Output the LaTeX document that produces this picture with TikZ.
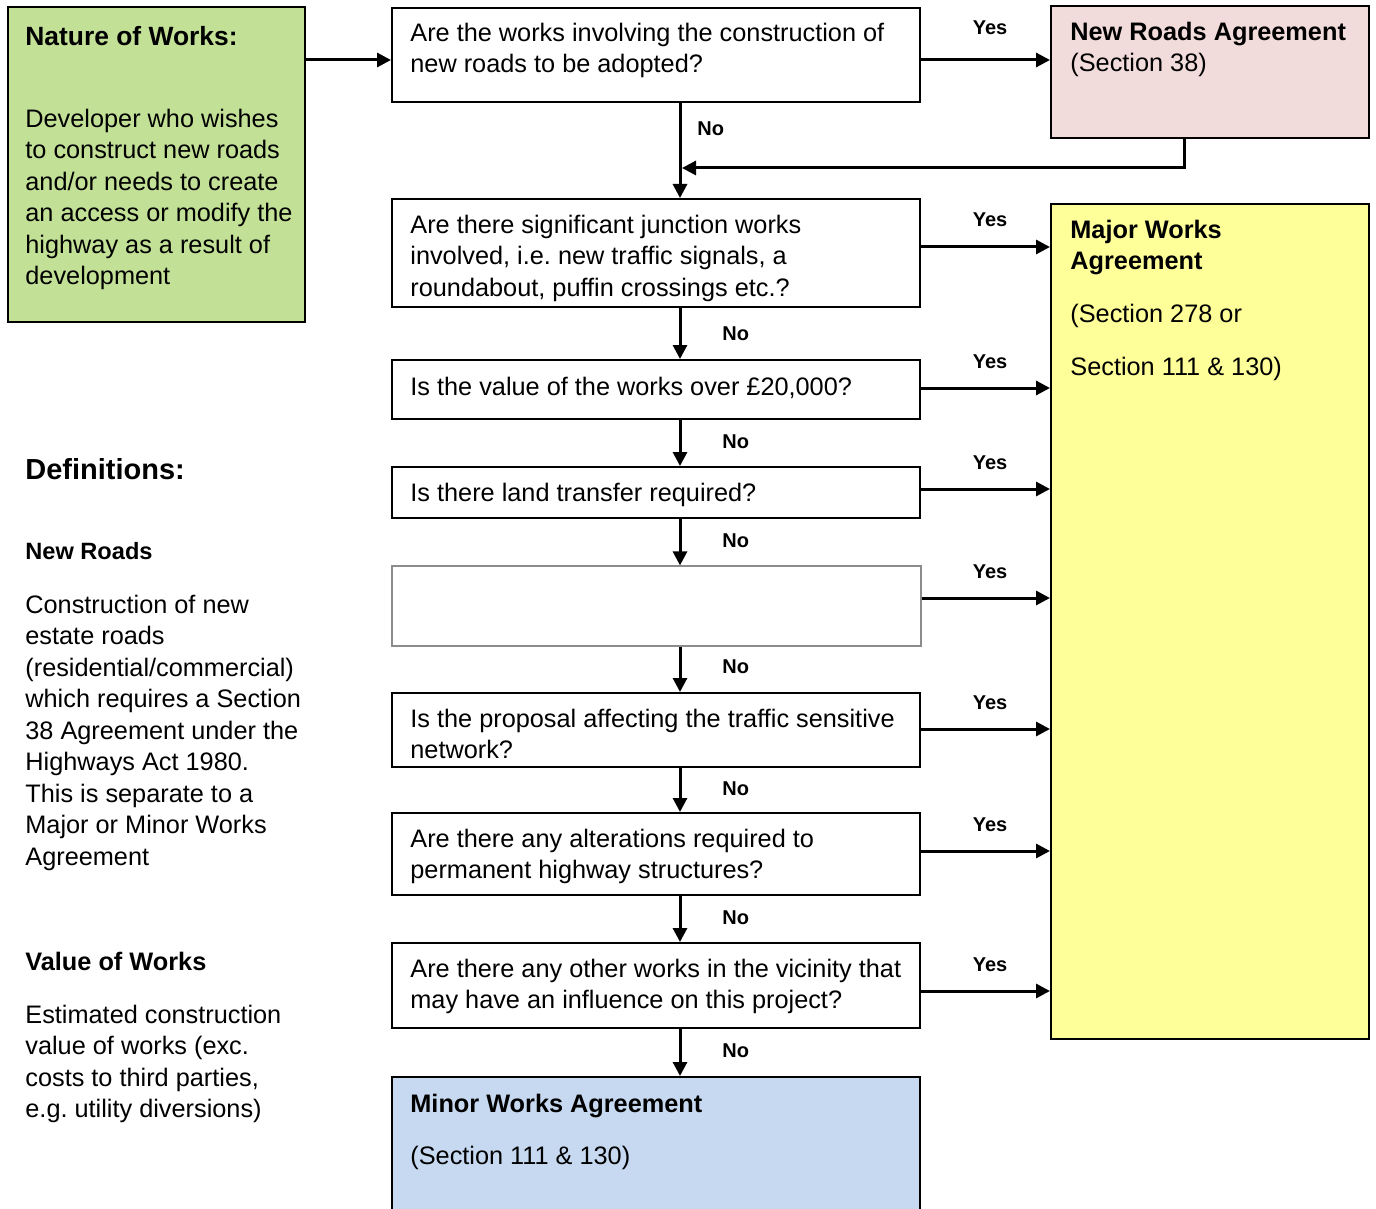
\documentclass[tikz,border=0pt]{standalone}
\usepackage{fontspec}
\setmainfont{Liberation Sans}
\usetikzlibrary{arrows.meta}
\definecolor{natgreen}{RGB}{194,225,150}
\definecolor{nrapink}{RGB}{242,220,219}
\definecolor{mwayellow}{RGB}{255,255,153}
\definecolor{minblue}{RGB}{198,217,240}
\begin{document}
\begin{tikzpicture}[x=0.5pt,y=-0.5pt,
  box/.style={draw=black, line width=1pt, rectangle, inner sep=0pt},
  emptybox/.style={draw=black!45, line width=0.6pt, rectangle, inner sep=0pt},
  arr/.style={line width=1.5pt, -{Triangle[length=7pt,width=7pt]}},
  body/.style={font=\fontsize{12.65}{15.75}\selectfont, align=left, inner sep=0pt, anchor=north west},
  bodyb/.style={body, font=\fontsize{12.65}{15.75}\selectfont\bfseries},
  yesno/.style={font=\fontsize{10}{12}\selectfont\bfseries, inner sep=0pt}]
\useasboundingbox (0,0) rectangle (1376,1209);
\fill[white] (0,0) rectangle (1376,1209);
% boxes
\node[box, fill=natgreen, minimum width=148.5pt, minimum height=157.5pt] (green) at (156.5,164.5) {};
\node[box, minimum width=264pt, minimum height=47pt] (q1) at (656,55) {};
\node[box, fill=nrapink, minimum width=159pt, minimum height=66pt] (nra) at (1210,72) {};
\node[box, minimum width=264pt, minimum height=54pt] (q2) at (656,253) {};
\node[box, fill=mwayellow, minimum width=159pt, minimum height=417.5pt] (mwa) at (1210,621.5) {};
\node[box, minimum width=264pt, minimum height=29.5pt] (q3) at (656,389.5) {};
\node[box, minimum width=264pt, minimum height=25.5pt] (q4) at (656,492.5) {};
\node[emptybox, minimum width=264.5pt, minimum height=40pt] (q5) at (656.5,606) {};
\node[box, minimum width=264pt, minimum height=37pt] (q6) at (656,730) {};
\node[box, minimum width=264pt, minimum height=41pt] (q7) at (656,854) {};
\node[box, minimum width=264pt, minimum height=42.5pt] (q8) at (656,985.5) {};
\node[box, fill=minblue, minimum width=264pt, minimum height=81.5pt] (minor) at (656,1158.5) {};
% texts in boxes
\node[body, font=\fontsize{13.2}{15.75}\selectfont\bfseries] (tgreenh) at (25,45-22) {\strut Nature of Works:};
\node[body] (tgreen) at (25,127-22) {\strut Developer who wishes\\to construct new roads\\and/or needs to create\\an access or modify the\\highway as a result of\\development};
\node[body] (tq1) at (410,41-22) {\strut Are the works involving the construction of\\new roads to be adopted?};
\node[body] (tnra) at (1070,40-22) {\strut\textbf{New Roads Agreement}\\(Section 38)};
\node[body] (tq2) at (410,233-22) {\strut Are there significant junction works\\involved, i.e.\ new traffic signals, a\\roundabout, puffin crossings etc.?};
\node[bodyb] (tmwah) at (1070,238-22) {\strut Major Works\\Agreement};
\node[body] (tmwa1) at (1070,322-22) {\strut (Section 278 or};
\node[body] (tmwa2) at (1070,375-22) {\strut Section 111 \& 130)};
\node[body] (tq3) at (410,395-22) {\strut Is the value of the works over £20,000?};
\node[body] (tq4) at (410,501-22) {\strut Is there land transfer required?};
\node[body] (tq6) at (410,727-22) {\strut Is the proposal affecting the traffic sensitive\\network?};
\node[body] (tq7) at (410,847-22) {\strut Are there any alterations required to\\permanent highway structures?};
\node[body] (tq8) at (410,977-22) {\strut Are there any other works in the vicinity that\\may have an influence on this project?};
\node[bodyb] (tminh) at (410,1112-22) {\strut Minor Works Agreement};
\node[body] (tmin) at (410,1164-22) {\strut (Section 111 \& 130)};
% left definitions
\node[font=\fontsize{14.5}{17}\selectfont\bfseries, inner sep=0pt, anchor=base west] (tdef) at (25,479) {Definitions:};
\node[body, font=\fontsize{11.8}{15.75}\selectfont\bfseries] (tnrh) at (25,559-22) {\strut New Roads};
\node[body] (tnr) at (25,613-22) {\strut Construction of new\\estate roads\\(residential/commercial)\\which requires a Section\\38 Agreement under the\\Highways Act 1980.\\This is separate to a\\Major or Minor Works\\Agreement};
\node[bodyb] (tvwh) at (25,970-22) {\strut Value of Works};
\node[body] (tvw) at (25,1023-22) {\strut Estimated construction\\value of works (exc.\\costs to third parties,\\e.g.\ utility diversions)};
% connectors
\draw[arr] (green.east |- 0,60) -- (q1.west |- 0,60);
\draw[arr] (q1.east |- 0,60) -- (nra.west |- 0,60);
\node[yesno, anchor=base] (yes1) at (990,35) {Yes};
\draw[arr] (q1.south -| 680,0) -- (q2.north -| 680,0);
\node[yesno, anchor=base west] (no1) at (697,136) {No};
\coordinate (join) at (682,168);
\draw[arr] (nra.south -| 1184,0) |- (join);
\foreach \q/\y in {q2/247,q3/388,q4/489,q5/598,q6/729,q7/851,q8/991}{
  \draw[arr] (\q.east |- 0,\y) -- (mwa.west |- 0,\y);
  \node[yesno, anchor=base] (yes\q) at (990,\y-20) {Yes};
}
\foreach \a/\b/\y in {q2/q3/340,q3/q4/448,q4/q5/547,q5/q6/673,q6/q7/795,q7/q8/924,q8/minor/1057}{
  \draw[arr] (\a.south -| 680,0) -- (\b.north -| 680,0);
  \node[yesno, anchor=base west] (no\a) at (722,\y) {No};
}
\end{tikzpicture}
\end{document}
